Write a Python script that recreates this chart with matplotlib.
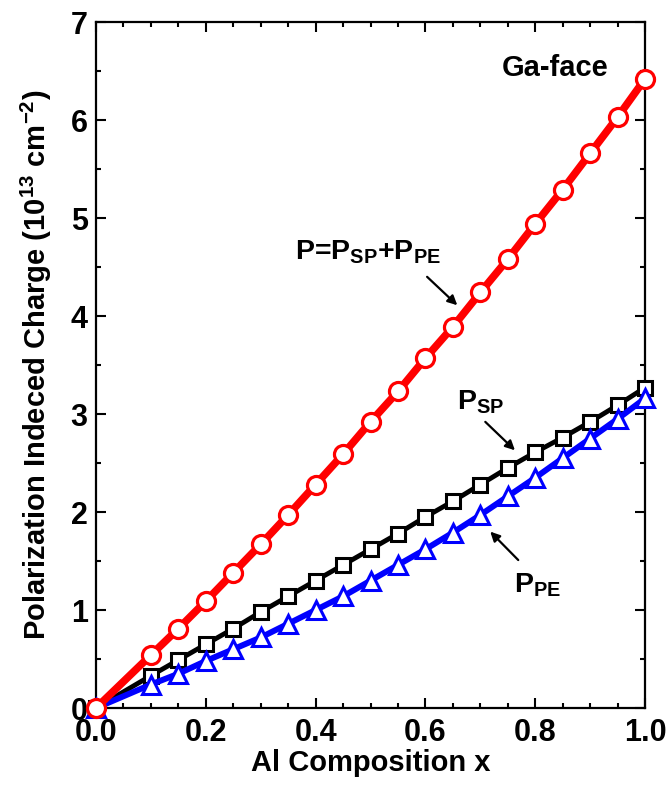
import matplotlib
matplotlib.use("Agg")
import matplotlib.pyplot as plt

# Al composition and polarization charges (10^13 cm^-2)
al_x = [0.0, 0.1, 0.15, 0.2, 0.25, 0.3, 0.35, 0.4, 0.45, 0.5,
        0.55, 0.6, 0.65, 0.7, 0.75, 0.8, 0.85, 0.9, 0.95, 1.0]
p_total = [0.0, 0.54, 0.81, 1.09, 1.38, 1.67, 1.97, 2.28, 2.59, 2.92,
           3.23, 3.57, 3.89, 4.24, 4.58, 4.94, 5.29, 5.66, 6.03, 6.42]
p_sp = [0.0, 0.33, 0.49, 0.65, 0.81, 0.98, 1.14, 1.30, 1.46, 1.62,
        1.78, 1.95, 2.11, 2.28, 2.45, 2.61, 2.76, 2.92, 3.09, 3.27]
p_pe = [0.0, 0.24, 0.35, 0.48, 0.60, 0.72, 0.86, 1.00, 1.14, 1.30,
        1.46, 1.62, 1.79, 1.97, 2.16, 2.35, 2.55, 2.75, 2.95, 3.16]

x_ticks = [0.0, 0.2, 0.4, 0.6, 0.8, 1.0]
y_ticks = [0, 1, 2, 3, 4, 5, 6, 7]

plt.rcParams['font.family'] = ['Liberation Sans', 'DejaVu Sans']
plt.rcParams['font.weight'] = 'bold'
plt.rcParams['mathtext.default'] = 'regular'

fig = plt.figure(figsize=(6.68, 7.86), dpi=100)
ax = fig.add_axes([0.1437, 0.0992, 0.822, 0.8728])

ax.plot(al_x, p_sp, '-s', color='black', lw=3.5, ms=9.5, mew=2.2,
        mfc='white', mec='black', zorder=3, clip_on=False)
ax.plot(al_x, p_pe, '-^', color='#0000ff', lw=4.3, ms=12.5, mew=2.2,
        mfc='white', mec='#0000ff', zorder=4, clip_on=False)
ax.plot(al_x, p_total, '-o', color='#ff0000', lw=5.5, ms=13, mew=2.3,
        mfc='white', mec='#ff0000', zorder=5, clip_on=False)

ax.set_xlim(0, 1.0)
ax.set_ylim(0, 7)
ax.set_xticks(x_ticks)
ax.set_xticklabels(['%.1f' % v for v in x_ticks])
ax.set_yticks(y_ticks)
ax.set_xticks([i * 0.05 for i in range(21)], minor=True)
ax.set_yticks([i * 0.5 for i in range(15)], minor=True)
ax.tick_params(which='both', direction='in', top=True, right=True, width=1.5)
ax.tick_params(which='major', length=7, labelsize=22)
ax.tick_params(axis='x', which='major', pad=7)
ax.tick_params(axis='y', which='major', pad=6)
ax.tick_params(which='minor', length=3.5)
for s in ax.spines.values():
    s.set_linewidth(1.6)

ax.set_xlabel('Al Composition x', fontsize=21, fontweight='bold', labelpad=1)
ax.set_ylabel('Polarization Indeced Charge (10$^{13}$ cm$^{-2}$)',
              fontsize=21, fontweight='bold', labelpad=12)

ax.text(0.836, 6.53, 'Ga-face', fontsize=21, fontweight='bold',
        ha='center', va='center')
ax.text(0.495, 4.65, 'P=P$_{SP}$+P$_{PE}$', fontsize=20.5, fontweight='bold',
        ha='center', va='center')
ax.text(0.70, 3.12, 'P$_{SP}$', fontsize=20.5, fontweight='bold',
        ha='center', va='center')
ax.text(0.805, 1.255, 'P$_{PE}$', fontsize=20.5, fontweight='bold',
        ha='center', va='center')

arrow = dict(arrowstyle='-|>', color='black', lw=1.6, mutation_scale=14,
             shrinkA=0, shrinkB=0)
ax.annotate('', xy=(0.658, 4.11), xytext=(0.603, 4.40), arrowprops=arrow)
ax.annotate('', xy=(0.763, 2.63), xytext=(0.709, 2.92), arrowprops=arrow)
ax.annotate('', xy=(0.718, 1.80), xytext=(0.769, 1.51), arrowprops=arrow)

fig.savefig('out.png', dpi=100)
